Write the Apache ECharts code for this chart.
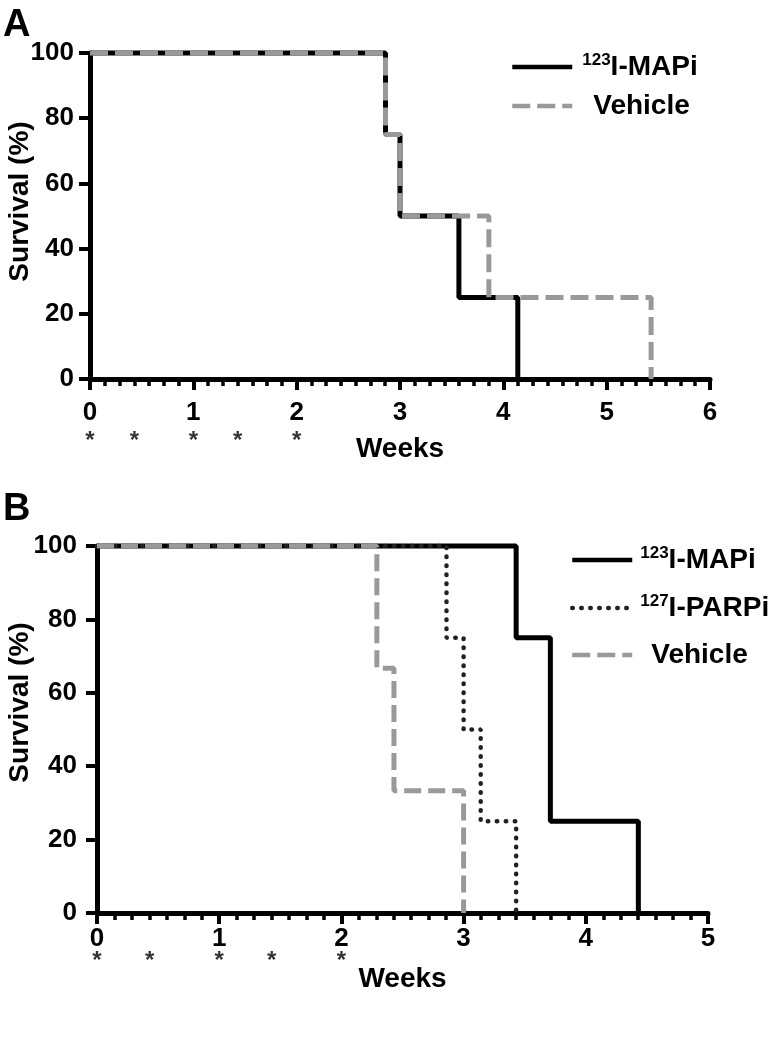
<!DOCTYPE html>
<html>
<head>
<meta charset="utf-8">
<script src="https://cdn.jsdelivr.net/npm/echarts@6/dist/echarts.min.js"></script>
<style>
  html, body { margin: 0; padding: 0; background: #fff; }
  #chart { width: 781px; height: 1050px; }
</style>
</head>
<body>
<div id="chart"></div>
<script>
// Panel A: survival steps (weeks, %)
const aMapiWeeks = [0, 2.86, 3.0, 3.57, 4.14];
const aMapiSurv = [100, 75, 50, 25, 0];
const aVehWeeks = [0, 2.86, 3.0, 3.86, 5.43];
const aVehSurv = [100, 75, 50, 25, 0];

// Panel B
const bMapiWeeks = [0, 3.43, 3.71, 4.43];
const bMapiSurv = [100, 75, 25, 0];
const bParpWeeks = [0, 2.86, 3.0, 3.14, 3.43];
const bParpSurv = [100, 75, 50, 25, 0];
const bVehWeeks = [0, 2.29, 2.43, 3.0];
const bVehSurv = [100, 66.7, 33.3, 0];

// dosing days marked with * under the axis (weeks)
const doseWeeks = [0, 0.43, 1, 1.43, 2];

const FONT = 'Liberation Sans';
const zip = (xs, ys) => xs.map((x, i) => [x, ys[i]]);

// axis styling shared by both panels
function xAxisFor(gridIndex, max, labelMargin, nameGap) {
  return {
    type: 'value', gridIndex: gridIndex, min: 0, max: max, interval: 1,
    name: 'Weeks', nameLocation: 'middle', nameGap: nameGap, nameMoveOverlap: false,
    nameTextStyle: { fontFamily: FONT, fontWeight: 'bold', fontSize: 28, color: '#000' },
    axisLine: { show: true, onZero: false, lineStyle: { color: '#000', width: 5 } },
    axisTick: { show: true, length: 11, lineStyle: { color: '#000', width: 4 } },
    minorTick: { show: true, splitNumber: 7, length: 7, lineStyle: { color: '#000', width: 3.5 } },
    axisLabel: { fontFamily: FONT, fontWeight: 'bold', fontSize: 26, color: '#000', margin: labelMargin },
    splitLine: { show: false }
  };
}
// namePad shifts the rotated title up along the axis
function yAxisFor(gridIndex, labelMargin, nameGap, namePad) {
  return {
    type: 'value', gridIndex: gridIndex, min: 0, max: 100, interval: 20,
    name: 'Survival (%)', nameLocation: 'middle', nameGap: nameGap, nameMoveOverlap: false,
    nameTextStyle: { fontFamily: FONT, fontWeight: 'bold', fontSize: 28, color: '#000', padding: [0, 0, 0, namePad] },
    axisLine: { show: true, lineStyle: { color: '#000', width: 5 } },
    axisTick: { show: true, length: 11, lineStyle: { color: '#000', width: 4 } },
    axisLabel: { fontFamily: FONT, fontWeight: 'bold', fontSize: 26, color: '#000', margin: labelMargin },
    splitLine: { show: false }
  };
}

function stepLine(name, idx, data, color, width, dash, cap) {
  return {
    name: name, type: 'line', step: 'end',
    xAxisIndex: idx, yAxisIndex: idx,
    data: data, symbol: 'none', clip: false,
    lineStyle: { color: color, width: width, type: dash, cap: cap || 'butt' },
    itemStyle: { color: color },
    emphasis: { disabled: true }
  };
}

function stars(idx, yVal) {
  return {
    type: 'scatter', xAxisIndex: idx, yAxisIndex: idx, clip: false,
    data: doseWeeks.map(w => [w, yVal]),
    symbolSize: 1, itemStyle: { color: 'rgba(0,0,0,0)' },
    label: { show: true, position: 'inside', formatter: '*',
      fontFamily: FONT, fontWeight: 'bold', fontSize: 24, color: '#000' },
    silent: true
  };
}

const legendText = {
  fontFamily: FONT, fontWeight: 'bold', fontSize: 28, color: '#000',
  rich: {
    sup: { fontFamily: FONT, fontSize: 17, color: '#000', verticalAlign: 'top', lineHeight: 16 },
    main: { fontFamily: FONT, fontWeight: 'bold', fontSize: 28, color: '#000', lineHeight: 30 },
    ind: { fontFamily: FONT, fontWeight: 'bold', fontSize: 28, color: '#000', lineHeight: 30, padding: [0, 0, 0, 11] }
  }
};
function legendFmt(name) {
  if (name === 'Vehicle') return '{ind|Vehicle}';
  const m = name.match(/^(\d+)(.*)$/);
  return '{sup|' + m[1] + '}{main|' + m[2] + '}';
}

const chart = echarts.init(document.getElementById('chart'), null, { renderer: 'canvas' });
chart.setOption({
  backgroundColor: '#fff',
  animation: false,
  grid: [
    { left: 90, top: 53, width: 620, height: 326, outerBoundsMode: 'none' },
    { left: 97, top: 546, width: 611, height: 367, outerBoundsMode: 'none' }
  ],
  xAxis: [xAxisFor(0, 6, 21, 56), xAxisFor(1, 5, 13, 52)],
  yAxis: [yAxisFor(0, 16, 56, 29), yAxisFor(1, 20, 63, 54)],
  legend: [
    {
      orient: 'vertical', left: 505, top: 47, itemWidth: 60, itemHeight: 14, itemGap: 11,
      data: ['123I-MAPi', 'Vehicle'],
      formatter: legendFmt, textStyle: Object.assign({ padding: [0, 0, 0, 5] }, legendText),
      lineStyle: { width: 4.5 }, itemStyle: { opacity: 0 }, selectedMode: false
    },
    {
      orient: 'vertical', left: 565, top: 540, itemWidth: 60, itemHeight: 14, itemGap: 19,
      data: ['123I-MAPi', '127I-PARPi', 'Vehicle'],
      formatter: legendFmt, textStyle: Object.assign({ padding: [0, 0, 0, 3] }, legendText),
      lineStyle: { width: 4.5 }, itemStyle: { opacity: 0 }, selectedMode: false
    }
  ],
  graphic: [
    { type: 'text', left: 3, top: 7, style: { text: 'A', fontFamily: FONT, fontWeight: 'bold', fontSize: 38, fill: '#000' } },
    { type: 'text', left: 3, top: 491, style: { text: 'B', fontFamily: FONT, fontWeight: 'bold', fontSize: 38, fill: '#000' } }
  ],
  series: [
    stepLine('123I-MAPi', 0, zip(aMapiWeeks, aMapiSurv), '#000', 5, 'solid'),
    stepLine('Vehicle', 0, zip(aVehWeeks, aVehSurv), '#999', 5, [18, 7]),
    stepLine('123I-MAPi', 1, zip(bMapiWeeks, bMapiSurv), '#000', 5, 'solid'),
    stepLine('127I-PARPi', 1, zip(bParpWeeks, bParpSurv), '#222', 4.5, [0.5, 8.5], 'round'),
    stepLine('Vehicle', 1, zip(bVehWeeks, bVehSurv), '#999', 5, [17, 7]),
    stars(0, -19),
    stars(1, -13.3)
  ]
});
</script>
</body>
</html>
